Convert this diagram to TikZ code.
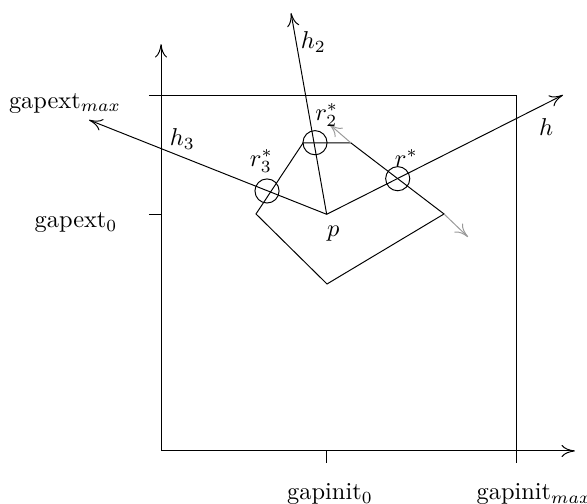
\documentclass[tikz,border=0pt]{standalone}
\usetikzlibrary{arrows.meta}
\tikzset{>={Computer Modern Rightarrow[length=5.5pt,width=5pt]}}
\begin{document}
\begin{tikzpicture}[x=1.023cm,y=1.023cm]
    \useasboundingbox (-2.268,-0.746) rectangle (6.0,6.352);
    % axes and box
    \draw[->] (0,0) -- (5.83,0);
    \draw[->] (0,0) -- (0,5.73);
    \draw (-0.17,5) -- (5,5) -- (5,-0.17);
    \draw (-0.17,10/3) -- (0,10/3);
    \draw (7/3,0) -- (7/3,-0.17);
    \node (ymax) at (-1.352,4.9) {gapext$_{max}$};
    \node (y0) at (-1.197,3.211) {gapext$_0$};
    \node (x0) at (2.38,-0.606) {gapinit$_0$};
    \node (xmax) at (5.254,-0.606) {gapinit$_{max}$};
    % polygon and rays from p
    \coordinate (p) at (7/3,10/3);
    \draw (1.338,3.338) -- (2.0,4.338) -- (2.676,4.338) -- (3.986,3.338) -- (2.338,2.352) -- cycle;
    \draw[->] (p) -- (5.662,5.014);
    \draw[->] (p) -- (1.831,6.169);
    \draw[->] (p) -- (-1.014,4.662);
    \draw[->,gray!80] (2.676,4.338) -- (2.366,4.606);
    \draw[->,gray!80] (3.986,3.338) -- (4.324,3.014);
    \draw (1.493,3.662) circle (0.17);
    \draw (2.169,4.342) circle (0.17);
    \draw (3.334,3.835) circle (0.17);
    \node (lp) at (2.427,3.066) {$p$};
    \node (lh) at (5.423,4.563) {$h$};
    \node (lh2) at (2.145,5.756) {$h_2$};
    \node (lh3) at (0.3,4.394) {$h_3$};
    \node (lr) at (3.455,4.122) {$r^*$};
    \node (lr2) at (2.334,4.732) {$r_2^*$};
    \node (lr3) at (1.413,4.085) {$r_3^*$};
\end{tikzpicture}
\end{document}
